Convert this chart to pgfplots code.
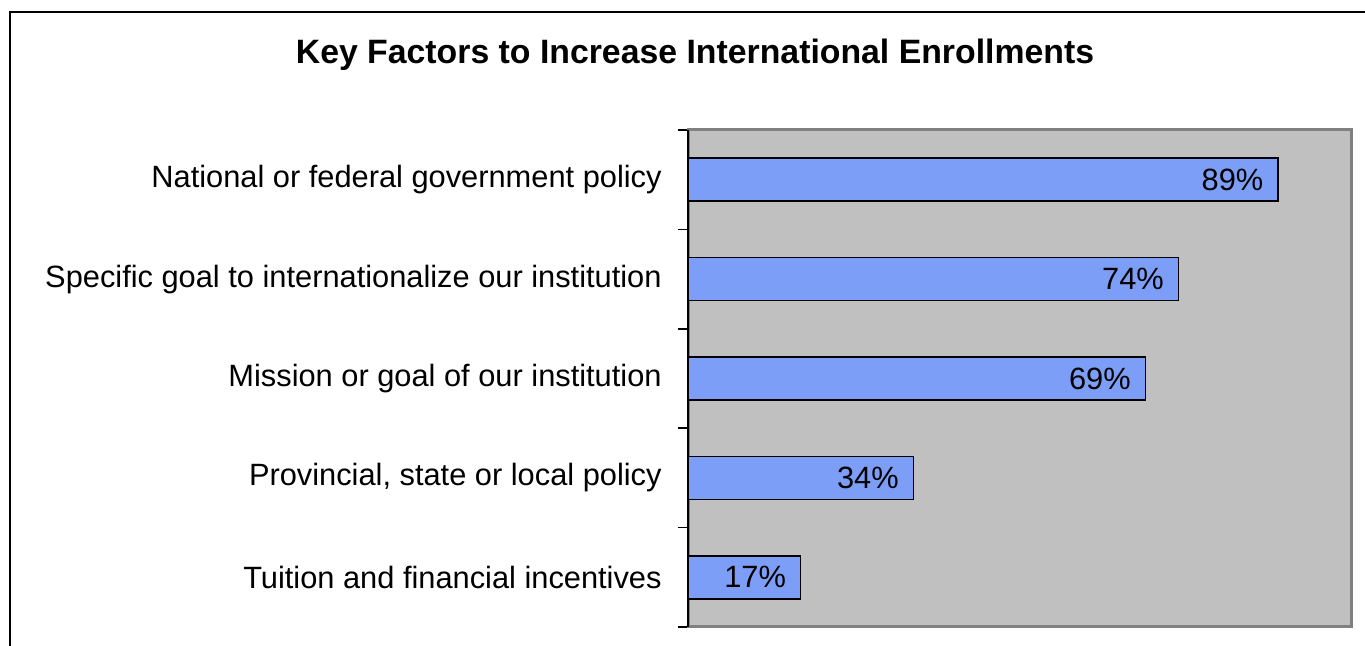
\documentclass[border=0pt]{standalone}
\usepackage{pgfplots}
\pgfplotsset{compat=1.18}
\usepackage{fontspec}
\setmainfont{Liberation Sans}
\definecolor{barblue}{RGB}{124,158,247}
\definecolor{plotgray}{RGB}{192,192,192}
\definecolor{framegray}{RGB}{128,128,128}

\begin{document}
\begin{tikzpicture}[x=1pt,y=1pt]
\useasboundingbox (0,0) rectangle (682.5,323);
% outer chart frame (only left and top edges are visible)
\draw[black, line width=1pt] (4.75,-5) -- (4.75,317) -- (690,317);
\node[font=\fontsize{16.9}{20}\selectfont\bfseries] at (347.5,295.5) {Key Factors to Increase International Enrollments};
\begin{axis}[
  at={(344pt,9.5pt)}, anchor=south west,
  scale only axis, width=331.5pt, height=248.5pt,
  xbar, xmin=0, xmax=100, ymin=0.5, ymax=5.5,
  bar width=21.5pt,
  clip=false,
  axis background/.style={fill=plotgray},
  axis line style={draw=framegray, line width=1.5pt},
  xtick=\empty,
  ytick={1,...,5},
  yticklabels={Tuition and financial incentives,{Provincial, state or local policy},Mission or goal of our institution,Specific goal to internationalize our institution,National or federal government policy},
  ytick pos=left,
  major tick length=0pt,
  major y tick style={draw=none},
  minor ytick={0.5,1.5,...,5.5},
  minor tick length=5pt,
  tick align=outside,
  minor y tick style={black, line width=0.75pt},
  yticklabel style={font=\fontsize{15.4}{18}\selectfont, inner xsep=0pt, xshift=-13pt},
  /pgf/number format/assume math mode=true,
  point meta=x,
  nodes near coords={\pgfmathprintnumber{\pgfplotspointmeta}\%},
  nodes near coords style={anchor=east, inner xsep=0pt, xshift=-7pt, font=\fontsize{15.4}{18}\selectfont},
]
\addplot[fill=barblue, draw=black, line width=0.75pt] coordinates {(17,1) (34,2) (69,3) (74,4) (89,5)};
\draw[black, line width=1pt] (rel axis cs:0,0) -- (rel axis cs:0,1);
\end{axis}
\end{tikzpicture}
\end{document}
